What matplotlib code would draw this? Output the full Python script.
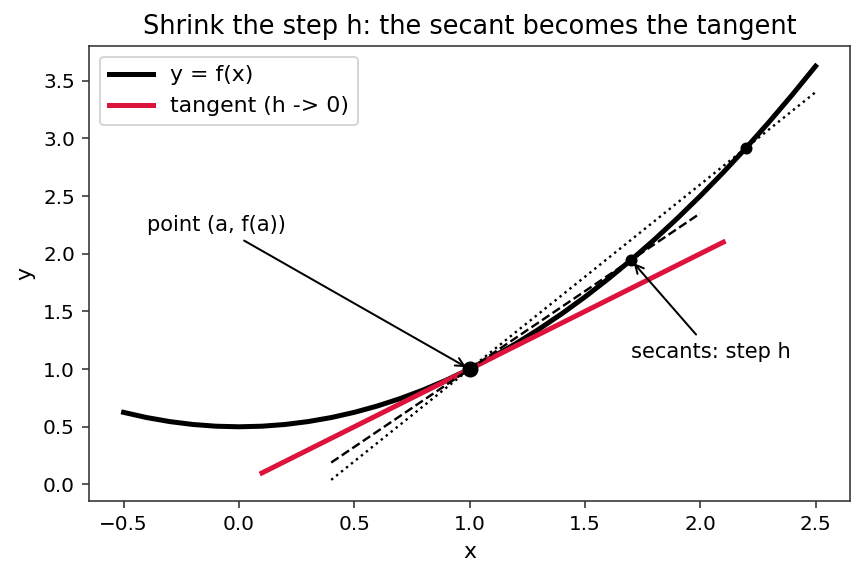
import matplotlib
matplotlib.use('Agg')
import matplotlib.pyplot as plt

# curve y = f(x)
curve_x = [-0.5, -0.4, -0.3, -0.2, -0.1, 0.0, 0.1, 0.2, 0.3, 0.4, 0.5, 0.6, 0.7,
           0.8, 0.9, 1.0, 1.1, 1.2, 1.3, 1.4, 1.5, 1.6, 1.7, 1.8, 1.9, 2.0,
           2.1, 2.2, 2.3, 2.4, 2.5]
curve_y = [0.625, 0.58, 0.545, 0.52, 0.505, 0.5, 0.505, 0.52, 0.545, 0.58, 0.625,
           0.68, 0.745, 0.82, 0.905, 1.0, 1.105, 1.22, 1.345, 1.48, 1.625,
           1.78, 1.945, 2.12, 2.305, 2.5, 2.705, 2.92, 3.145, 3.38, 3.625]

# tangent at a = 1
tangent_x = [0.1, 2.1]
tangent_y = [0.1, 2.1]

# secants
sec_far_x = [0.4, 2.5]
sec_far_y = [0.04, 3.4]
sec_near_x = [0.4, 2.0]
sec_near_y = [0.19, 2.35]

# points on the curve
a_x, a_y = 1.0, 1.0
step_x = [1.7, 2.2]
step_y = [1.945, 2.92]

plt.rcParams['font.size'] = 11
plt.rcParams['xtick.labelsize'] = 10
plt.rcParams['ytick.labelsize'] = 10
plt.rcParams['axes.edgecolor'] = '#333333'
plt.rcParams['xtick.color'] = '#333333'
plt.rcParams['ytick.color'] = '#333333'
plt.rcParams['xtick.labelcolor'] = 'black'
plt.rcParams['ytick.labelcolor'] = 'black'

fig, ax = plt.subplots(figsize=(6, 4), dpi=144)
fig.subplots_adjust(left=0.103, right=0.984, top=0.921, bottom=0.131)

ax.plot(curve_x, curve_y, color='black', lw=2.5, label='y = f(x)')
ax.plot(tangent_x, tangent_y, color='#DC143C', lw=2.5, label='tangent (h -> 0)')
ax.plot(sec_far_x, sec_far_y, color='black', lw=1.2, ls=':')
ax.plot(sec_near_x, sec_near_y, color='black', lw=1.2, ls='--')
ax.plot(step_x, step_y, 'o', color='black', ms=5)
ax.plot([a_x], [a_y], 'o', color='black', ms=7)

ax.annotate('point (a, f(a))', xy=(a_x, a_y), xytext=(-0.4, 2.2), fontsize=10.5,
            arrowprops=dict(arrowstyle='->', color='black', lw=1))
ax.annotate('secants: step h', xy=(step_x[0], step_y[0]), xytext=(1.7, 1.1), fontsize=10.5,
            arrowprops=dict(arrowstyle='->', color='black', lw=1))

ax.set_title('Shrink the step h: the secant becomes the tangent', fontsize=12.8)
ax.set_xlabel('x')
ax.set_ylabel('y')
ax.legend(loc='upper left')

fig.savefig('out.png', dpi=144)
